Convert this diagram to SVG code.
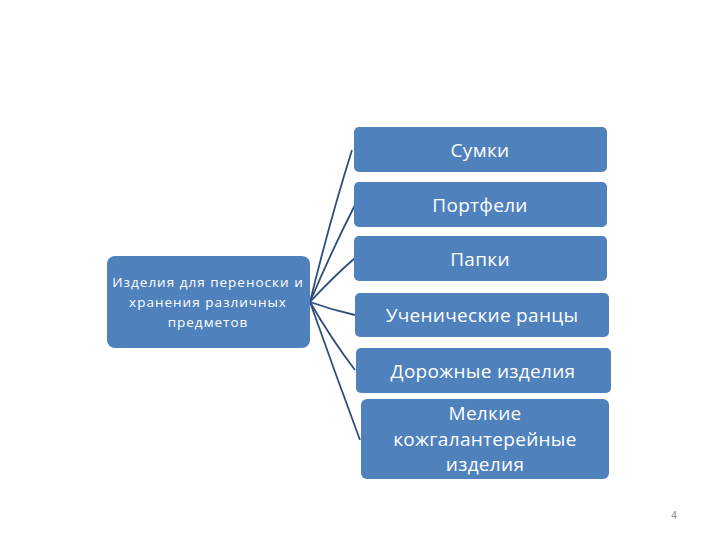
<svg xmlns="http://www.w3.org/2000/svg" width="720" height="540" viewBox="0 0 720 540">
<style>
.box{fill:#4F81BD;}
.t{font-family:"Open Sans","Liberation Sans",sans-serif;fill:#ffffff;text-anchor:middle;}
.r{font-size:19px;letter-spacing:0.3px;}
.l{font-size:13.5px;letter-spacing:1px;}
.c{fill:none;stroke:#2F4E7A;stroke-width:1.8;}
</style>
<rect width="720" height="540" fill="#ffffff"/>
<g id="connectors">
<path class="c" d="M310,302 Q330,220 352,150"/>
<path class="c" d="M310,302 Q332,250 355,205"/>
<path class="c" d="M310,302 Q332,278 355,258"/>
<path class="c" d="M310,302 Q332,310 355,315"/>
<path class="c" d="M310,302 Q332,340 355,370"/>
<path class="c" d="M310,302 Q334,370 360,440"/>
</g>
<g id="root">
<rect class="box" x="107" y="256" width="203" height="92" rx="8"/>
<text class="t l" x="208" y="287">Изделия для переноски и</text>
<text class="t l" x="208" y="307">хранения различных</text>
<text class="t l" x="208" y="327">предметов</text>
</g>
<g id="n1"><rect class="box" x="354" y="127" width="253" height="45" rx="5"/><text class="t r" x="480" y="157">Сумки</text></g>
<g id="n2"><rect class="box" x="354" y="182" width="253" height="45" rx="5"/><text class="t r" x="480" y="212">Портфели</text></g>
<g id="n3"><rect class="box" x="354" y="236" width="253" height="45" rx="5"/><text class="t r" x="480" y="266">Папки</text></g>
<g id="n4"><rect class="box" x="355" y="293" width="254" height="44" rx="5"/><text class="t r" x="482" y="322">Ученические ранцы</text></g>
<g id="n5"><rect class="box" x="356" y="348" width="255" height="45" rx="5"/><text class="t r" x="483" y="378">Дорожные изделия</text></g>
<g id="n6"><rect class="box" x="361" y="399" width="248" height="80" rx="6"/>
<text class="t r" x="485" y="420">Мелкие</text>
<text class="t r" x="485" y="446">кожгалантерейные</text>
<text class="t r" x="485" y="471">изделия</text></g>
<text x="674" y="519" font-family="Liberation Sans,sans-serif" font-size="10" fill="#888888" text-anchor="middle">4</text>
</svg>
